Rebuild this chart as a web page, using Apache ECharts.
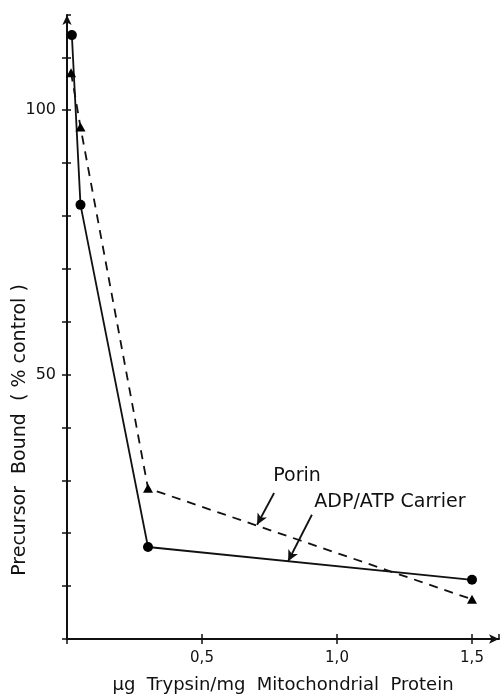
<!DOCTYPE html>
<html>
<head>
<meta charset="utf-8">
<script src="https://cdn.jsdelivr.net/npm/echarts@6/dist/echarts.min.js"></script>
<style>html,body{margin:0;padding:0;background:#fff;}#c{width:502px;height:699px;}</style>
</head>
<body>
<div id="c"></div>
<script>
// trypsin amounts (µg / mg mitochondrial protein)
var adpX = [0.018, 0.05, 0.3, 1.5];
var adpY = [114.2, 82.1, 17.4, 11.2];
var porinX = [0.015, 0.05, 0.3, 1.5];
var porinY = [107.1, 96.8, 28.5, 7.5];
var yLabelled = [50, 100];
// annotation label positions / arrows in data units
var labelTexts = ['Porin', 'ADP/ATP Carrier'];
var labelPos = [[0.852, 30.8], [1.196, 25.9]];
var arrowFrom = [[0.767, 27.6], [0.907, 23.5]];
var arrowTo = [[0.704, 21.6], [0.819, 14.7]];

function zip(xs, ys) { return xs.map(function (x, i) { return [x, ys[i]]; }); }

var FONT = 'DejaVu Sans';
var chart = echarts.init(document.getElementById('c'), null, { renderer: 'canvas' });
var tickColor = '#111';
var baseY = {
  type: 'value', min: 0, max: 118, interval: 10,
  splitLine: { show: false },
  axisLine: { show: false }
};
chart.setOption({
  animation: false,
  backgroundColor: '#fff',
  grid: { left: 67, right: 3, top: 15, bottom: 53 },
  xAxis: [{
    type: 'value', min: 0, max: 1.6, interval: 0.5,
    splitLine: { show: false },
    axisLine: { show: true, lineStyle: { color: tickColor, width: 2 }, symbol: ['none', 'arrow'], symbolSize: [7, 10] },
    axisTick: { show: true, length: 5, lineStyle: { color: tickColor, width: 1.5 } },
    axisLabel: {
      color: '#111', fontFamily: FONT, fontSize: 15, margin: 12, showMaxLabel: false,
      formatter: function (v) { if (v <= 0 || v > 1.5) return ''; return v.toFixed(1).replace('.', ','); }
    },
    name: 'μg  Trypsin/mg  Mitochondrial  Protein',
    nameLocation: 'middle', nameGap: 37,
    nameTextStyle: { color: '#111', fontFamily: FONT, fontSize: 18 }
  }, {
    type: 'value', min: 0, max: 1.6, interval: 0.5, position: 'bottom',
    splitLine: { show: false }, axisLine: { show: false }, axisLabel: { show: false },
    axisTick: { show: true, inside: true, length: 5, lineStyle: { color: tickColor, width: 1.5 } }
  }],
  yAxis: [Object.assign({}, baseY, {
    axisLine: { show: true, lineStyle: { color: tickColor, width: 2 }, symbol: ['none', 'arrow'], symbolSize: [7, 10] },
    axisTick: { show: true, length: 5, lineStyle: { color: tickColor, width: 1.5 } },
    axisLabel: {
      color: '#111', fontFamily: FONT, fontSize: 16, margin: 11, showMaxLabel: false,
      formatter: function (v) { return yLabelled.indexOf(v) >= 0 ? String(v) : ''; }
    }
  }), Object.assign({}, baseY, {
    position: 'left',
    axisLabel: { show: false },
    axisTick: { show: true, inside: true, length: 4, lineStyle: { color: tickColor, width: 1.5 } }
  })],
  graphic: [{
    type: 'text', x: 20, y: 430, rotation: Math.PI / 2,
    style: { text: 'Precursor  Bound  ( % control )', fontFamily: FONT, fontSize: 19, fill: '#111', align: 'center', verticalAlign: 'middle' }
  }],
  series: [{
    name: 'ADP/ATP Carrier', type: 'line', data: zip(adpX, adpY),
    symbol: 'circle', symbolSize: 10,
    lineStyle: { color: '#111', width: 1.8, type: 'solid' },
    itemStyle: { color: '#000' }
  }, {
    name: 'Porin', type: 'line', data: zip(porinX, porinY),
    symbol: 'triangle', symbolSize: [10, 9],
    lineStyle: { color: '#111', width: 1.8, type: [9, 7] },
    itemStyle: { color: '#000' }
  }, {
    name: 'annotations', type: 'scatter', symbolSize: 0,
    itemStyle: { opacity: 1 },
    data: labelPos.map(function (p, i) { return { value: p, label: { formatter: labelTexts[i] } }; }),
    label: { show: true, position: 'inside', color: '#111', fontFamily: FONT, fontSize: 19 },
    markLine: {
      silent: true, symbol: ['none', 'arrow'], symbolSize: [8, 11],
      lineStyle: { color: '#111', width: 1.8, type: 'solid' },
      label: { show: false },
      data: arrowFrom.map(function (f, i) { return [{ coord: f }, { coord: arrowTo[i] }]; })
    }
  }]
});
</script>
</body>
</html>
